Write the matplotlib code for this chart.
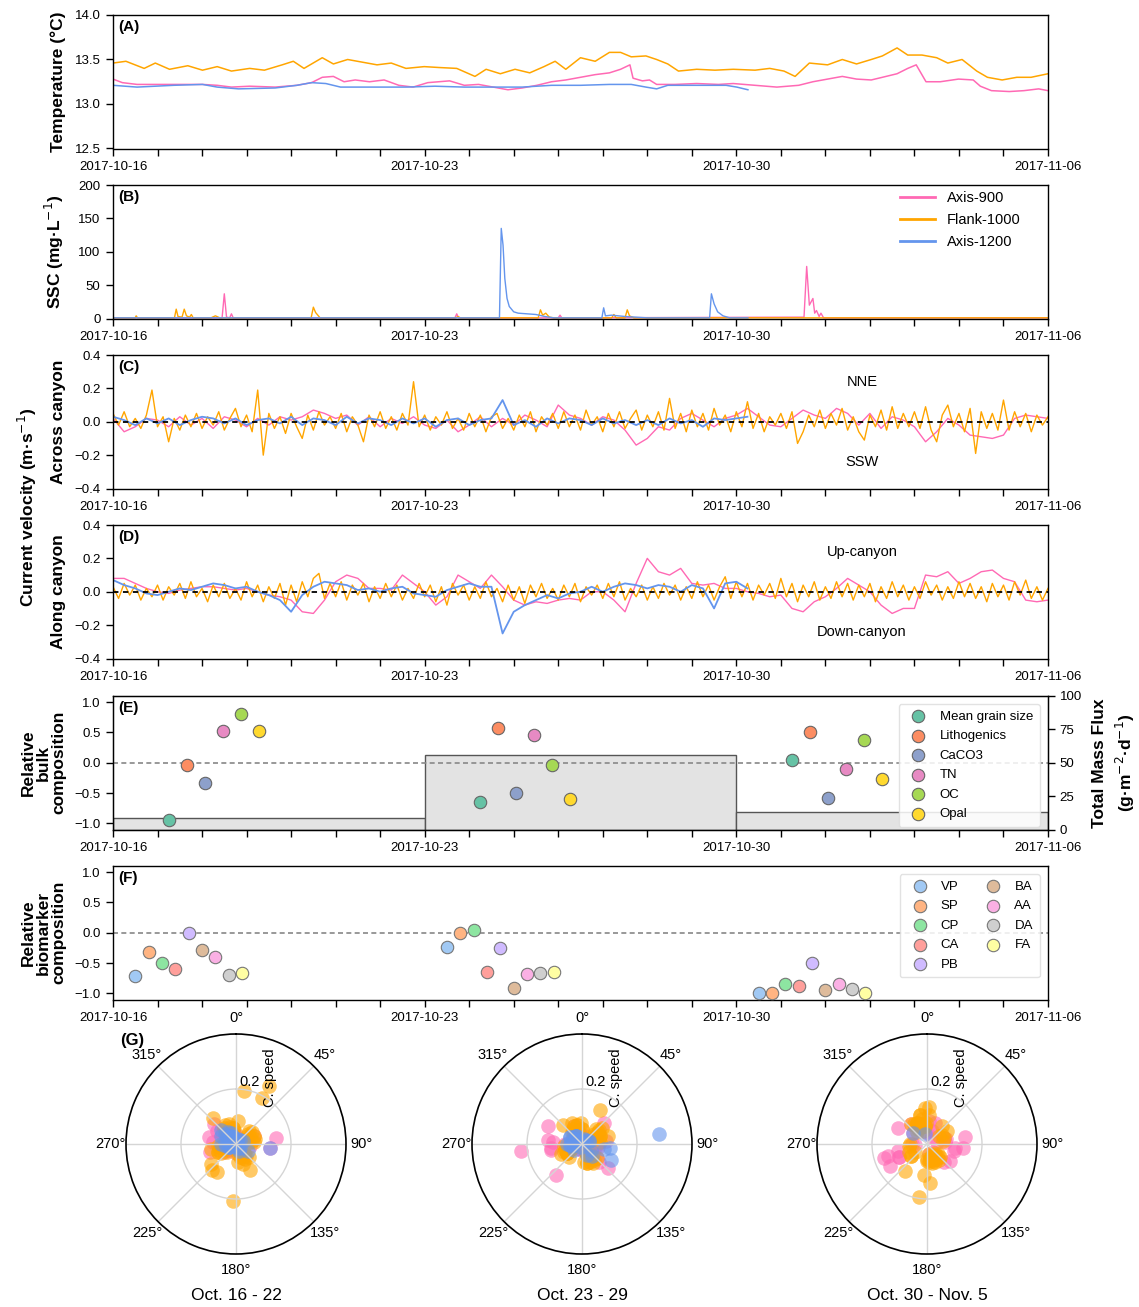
import numpy as np
import matplotlib
matplotlib.use("Agg")
import matplotlib.pyplot as plt
import matplotlib.dates as mdates
from matplotlib.ticker import FixedLocator, MultipleLocator
from datetime import datetime

plt.rcParams["font.family"] = ["Liberation Sans", "DejaVu Sans"]
plt.rcParams["font.size"] = 9.5

PINK, ORANGE, BLUE = "#ff69b4", "#ffa500", "#6495ed"
SITES = ["Axis-900", "Flank-1000", "Axis-1200"]
T0 = mdates.date2num(datetime(2017, 10, 16))
LABEL_SIZE = 12.5

# ---- (A) temperature, days since 2017-10-16 ----
temp_pink_day = [0, 0.21, 0.54, 1.19, 2.01, 2.34, 2.66, 3.07, 3.64, 4.13, 4.46, 4.70, 4.95, 5.19, 5.44,
                 5.76, 6.09, 6.42, 6.74, 7.07, 7.56, 7.89, 8.21, 8.54, 8.87, 9.19, 9.52, 9.85, 10.17, 10.50,
                 10.83, 11.15, 11.40, 11.61, 11.68, 11.89, 12.05, 12.21, 12.62, 13.11, 13.60, 13.93, 14.42,
                 14.91, 15.40, 15.72, 16.05, 16.38, 16.70, 17.03, 17.28, 17.61, 17.85, 18.04, 18.26, 18.58,
                 18.99, 19.32, 19.48, 19.73, 20.13, 20.46, 20.79, 21.0]
temp_pink = [13.28, 13.24, 13.22, 13.22, 13.22, 13.21, 13.19, 13.20, 13.19, 13.21, 13.24, 13.30, 13.31, 13.25,
             13.27, 13.25, 13.27, 13.21, 13.19, 13.24, 13.26, 13.21, 13.22, 13.19, 13.16, 13.18, 13.21, 13.25,
             13.27, 13.30, 13.33, 13.35, 13.39, 13.44, 13.29, 13.26, 13.27, 13.22, 13.22, 13.23, 13.22, 13.23,
             13.21, 13.19, 13.21, 13.25, 13.28, 13.31, 13.28, 13.27, 13.30, 13.34, 13.40, 13.44, 13.25, 13.25,
             13.28, 13.27, 13.20, 13.15, 13.14, 13.15, 13.17, 13.15]
temp_orange_day = [0, 0.29, 0.70, 0.95, 1.27, 1.68, 2.01, 2.34, 2.66, 3.07, 3.40, 3.80, 4.05, 4.29, 4.70,
                   4.95, 5.27, 5.60, 5.93, 6.25, 6.58, 6.99, 7.32, 7.72, 8.13, 8.38, 8.70, 9.03, 9.36, 9.68,
                   9.93, 10.17, 10.50, 10.83, 11.15, 11.40, 11.64, 11.97, 12.21, 12.46, 12.70, 13.11, 13.52,
                   13.93, 14.42, 14.75, 15.07, 15.32, 15.64, 16.05, 16.38, 16.70, 17.03, 17.28, 17.61, 17.85,
                   18.17, 18.50, 18.75, 19.07, 19.40, 19.64, 19.97, 20.30, 20.62, 21.0]
temp_orange = [13.46, 13.48, 13.40, 13.46, 13.39, 13.43, 13.38, 13.42, 13.37, 13.40, 13.38, 13.44, 13.48, 13.40,
               13.52, 13.45, 13.50, 13.47, 13.44, 13.46, 13.40, 13.42, 13.41, 13.40, 13.31, 13.39, 13.34, 13.39,
               13.35, 13.42, 13.48, 13.39, 13.52, 13.48, 13.58, 13.58, 13.53, 13.54, 13.50, 13.45, 13.37, 13.39,
               13.38, 13.39, 13.38, 13.40, 13.37, 13.31, 13.46, 13.44, 13.50, 13.45, 13.50, 13.54, 13.63, 13.55,
               13.55, 13.52, 13.46, 13.50, 13.37, 13.30, 13.27, 13.30, 13.30, 13.34]
temp_blue_day = [0, 0.54, 1.36, 2.01, 2.34, 2.82, 3.64, 4.13, 4.46, 4.78, 5.11, 5.93, 6.58, 7.23, 7.89,
                 8.54, 9.19, 9.85, 10.50, 11.15, 11.64, 11.97, 12.21, 12.46, 13.11, 13.77, 14.01, 14.26]
temp_blue = [13.21, 13.19, 13.21, 13.22, 13.19, 13.17, 13.18, 13.21, 13.24, 13.23, 13.19, 13.19, 13.19, 13.20,
             13.19, 13.19, 13.19, 13.21, 13.21, 13.22, 13.22, 13.19, 13.17, 13.21, 13.21, 13.21, 13.19, 13.16]

# ---- (B) SSC ----
ssc_pink_day = [0, 2.45, 2.50, 2.55, 2.62, 2.66, 2.70, 7.68, 7.72, 7.76, 10.0, 10.04, 10.08,
                15.52, 15.58, 15.64, 15.72, 15.76, 15.80, 15.86, 15.90, 15.96, 21]
ssc_pink = [1, 1, 37, 2, 1, 7, 1, 1, 7, 1, 1, 5, 1, 2, 78, 20, 30, 8, 12, 3, 8, 1, 1]
ssc_orange_day = [0, 0.50, 0.52, 0.55, 1.38, 1.42, 1.46, 1.55, 1.60, 1.65, 1.72, 1.76, 1.80, 2.20, 2.30,
                  2.40, 4.45, 4.50, 4.55, 4.60, 4.65, 7.70, 7.75, 7.80, 9.55, 9.60, 9.65, 9.72, 9.80, 9.90,
                  11.20, 11.25, 11.30, 11.50, 11.55, 11.60, 11.70, 21]
ssc_orange = [1, 1, 4, 1, 1, 14, 3, 2, 14, 4, 2, 6, 1, 1, 4, 1, 1, 17, 9, 5, 1, 1, 3, 1, 1, 13, 5, 8, 2, 1,
              1, 6, 1, 1, 13, 4, 1, 1]
ssc_blue_day = [0, 8.68, 8.72, 8.76, 8.80, 8.85, 8.90, 9.0, 9.1, 9.3, 9.5, 9.7, 9.9, 10.98, 11.02, 11.06,
                11.2, 11.5, 12.0, 13.4, 13.44, 13.5, 13.58, 13.7, 13.85, 14.26]
ssc_blue = [1, 1, 135, 110, 60, 30, 18, 10, 8, 7, 6, 3, 1, 1, 16, 4, 5, 3, 1, 1, 37, 22, 10, 4, 1, 1]

# ---- (C) across-canyon velocity; pink/blue every 6 h, orange every 3 h ----
across_pink = [0.02, -0.06, -0.03, 0.02, 0.01, -0.03, 0.03, -0.02, 0.02, -0.04, 0.03, 0.01,
               -0.03, 0.02, -0.02, 0.03, 0.01, 0.03, 0.07, 0.05, 0.02, 0.04, -0.02, 0.03,
               -0.03, 0.02, -0.01, 0.03, -0.02, -0.04, 0.01, -0.06, -0.02, 0.03, -0.03, 0.02,
               -0.02, 0.04, 0.01, -0.03, 0.10, 0.04, 0.02, -0.02, 0.03, 0.01, -0.05, -0.14,
               -0.10, -0.03, -0.05, 0.02, 0.05, 0.01, -0.03, 0.02, 0.04, 0.08, 0.03, -0.02,
               -0.03, 0.02, 0.07, 0.04, 0.02, 0.08, 0.05, -0.02, 0.05, -0.04, 0.03, 0.01,
               -0.03, -0.12, -0.06, 0.02, -0.02, -0.08, -0.09, -0.10, -0.08, 0.02, 0.04, 0.03, 0.02]
across_blue = [0.03, 0.01, -0.02, 0.02, -0.01, 0.02, -0.02, 0.01, 0.03, 0.02, -0.01, 0.02,
               -0.02, 0.01, 0.02, -0.01, 0.03, -0.02, 0.02, 0.01, -0.02, 0.03, -0.01, 0.02,
               0.01, -0.02, 0.02, -0.01, 0.02, -0.03, 0.01, 0.02, -0.02, 0.01, 0.02, 0.13,
               -0.02, 0.01, -0.03, 0.02, -0.01, 0.02, 0.01, -0.02, 0.02, -0.01, 0.01, -0.02,
               0.01, -0.02, 0.02, -0.01, 0.01, -0.03, 0.02, 0.01, 0.02, 0.03]
across_orange = [0.05, -0.02, 0.06, -0.03, 0.02, -0.04, 0.04, 0.19,
                 -0.03, 0.03, -0.12, 0.02, -0.05, 0.04, -0.03, 0.05,
                 -0.04, 0.03, -0.02, 0.06, -0.05, 0.02, 0.08, -0.03,
                 0.04, -0.06, 0.19, -0.20, 0.05, -0.04, 0.03, -0.07,
                 0.05, -0.03, -0.10, 0.04, -0.05, 0.06, -0.02, 0.03,
                 -0.04, 0.05, -0.06, 0.03, -0.02, -0.12, 0.04, -0.03,
                 0.06, -0.04, 0.03, -0.05, 0.05, -0.02, 0.24, -0.03,
                 0.04, -0.05, 0.03, -0.02, 0.06, -0.04, 0.02, -0.05,
                 0.05, -0.03, 0.04, -0.06, 0.03, 0.05, -0.04, 0.02,
                 -0.05, 0.04, -0.03, 0.06, -0.06, 0.03, -0.02, 0.05,
                 -0.04, 0.06, -0.03, 0.04, -0.05, 0.07, -0.02, 0.03,
                 -0.06, 0.05, -0.03, 0.06, -0.04, 0.02, 0.07, -0.05,
                 0.04, -0.03, 0.06, -0.05, 0.14, -0.04, 0.05, -0.06,
                 0.07, -0.03, 0.05, -0.05, 0.08, -0.02, 0.04, -0.06,
                 0.06, -0.03, 0.12, -0.04, 0.05, -0.06, 0.03, -0.02,
                 0.05, -0.04, 0.06, -0.13, -0.06, 0.04, -0.03, 0.07,
                 -0.04, 0.05, -0.02, 0.08, -0.05, 0.03, -0.06, -0.11,
                 0.04, -0.03, 0.07, -0.05, 0.09, -0.04, 0.05, -0.03,
                 0.06, -0.04, 0.09, -0.05, -0.12, 0.04, 0.10, -0.03,
                 0.05, -0.06, 0.08, -0.19, 0.06, -0.04, 0.05, -0.05,
                 0.13, -0.05, 0.06, -0.03, 0.05, -0.06, 0.04, -0.02, 0.03]

# ---- (D) along-canyon velocity ----
along_pink = [0.08, 0.08, 0.05, 0.02, 0.00, -0.01, 0.01, 0.02, 0.03, 0.03, 0.02, 0.01,
              0.02, 0.00, -0.02, -0.03, -0.05, -0.12, -0.13, -0.05, 0.06, 0.10, 0.08, 0.02,
              0.02, 0.01, 0.10, 0.05, 0.00, -0.08, -0.03, 0.10, 0.06, 0.02, 0.10, 0.03,
              -0.05, -0.08, -0.06, -0.07, -0.05, -0.04, -0.05, 0.00, 0.00, -0.05, -0.12, 0.05,
              0.20, 0.12, 0.10, 0.14, 0.05, 0.04, 0.05, 0.02, 0.02, 0.00, -0.01, -0.03,
              -0.02, -0.10, -0.12, -0.06, -0.03, 0.02, 0.08, 0.04, 0.00, -0.08, -0.13, -0.10,
              -0.10, 0.10, 0.09, 0.12, 0.05, 0.08, 0.12, 0.13, 0.08, 0.06, -0.05, -0.06, -0.05]
along_blue = [0.07, 0.04, 0.02, -0.01, -0.02, 0.00, 0.02, 0.01, 0.03, 0.05, 0.04, 0.02,
              0.03, 0.00, -0.02, -0.05, -0.12, -0.02, 0.03, 0.06, 0.05, 0.04, 0.01, 0.02,
              0.00, 0.02, 0.03, -0.01, -0.02, -0.03, 0.01, 0.03, 0.05, 0.03, 0.03, -0.25,
              -0.12, -0.08, -0.05, -0.02, -0.04, -0.01, 0.00, 0.03, 0.00, 0.03, 0.05, 0.04,
              0.02, 0.04, 0.03, 0.00, 0.04, 0.02, -0.10, 0.05, 0.06, 0.02]
along_orange = [0.03, -0.04, 0.05, -0.02, 0.04, -0.05, 0.02, -0.03,
                0.04, -0.05, 0.03, -0.02, 0.05, -0.04, 0.06, -0.03,
                0.02, -0.06, 0.04, -0.03, 0.05, -0.04, 0.02, -0.05,
                0.06, -0.03, 0.04, -0.06, 0.03, -0.04, 0.05, -0.08,
                0.04, -0.06, 0.06, -0.03, 0.08, 0.11, -0.04, 0.05,
                -0.03, 0.06, -0.05, 0.04, -0.02, 0.05, -0.06, 0.03,
                -0.04, 0.05, -0.03, 0.04, -0.05, 0.02, -0.04, 0.05,
                -0.03, 0.04, -0.06, 0.03, -0.08, 0.05, -0.02, 0.04,
                -0.05, 0.03, -0.04, 0.06, -0.03, 0.02, -0.06, 0.04,
                -0.05, 0.03, -0.07, 0.04, -0.03, 0.05, -0.04, 0.02,
                -0.05, 0.04, -0.03, 0.05, -0.06, 0.03, -0.02, 0.04,
                -0.04, 0.05, -0.03, 0.06, -0.05, 0.02, -0.03, 0.04,
                -0.05, 0.03, -0.04, 0.05, -0.02, 0.04, -0.05, 0.03,
                -0.04, 0.06, -0.03, 0.04, -0.05, 0.03, 0.09, -0.04,
                0.06, -0.03, 0.05, -0.05, 0.04, -0.02, 0.05, -0.04,
                0.08, -0.03, 0.05, -0.06, 0.04, -0.03, 0.06, -0.05,
                0.03, -0.04, 0.06, -0.03, 0.05, -0.05, 0.04, -0.03,
                0.05, -0.06, 0.03, -0.04, 0.06, -0.03, 0.04, -0.05,
                0.03, -0.04, 0.06, -0.02, 0.04, -0.05, 0.03, -0.04,
                0.06, -0.03, 0.05, -0.04, 0.03, -0.06, 0.05, -0.03,
                0.04, -0.05, 0.06, -0.02, 0.07, -0.04, 0.03, -0.05, 0.02]

# ---- (E) bulk composition + total mass flux, (F) biomarkers ----
bulk_names = ["Mean grain size", "Lithogenics", "CaCO3", "TN", "OC", "Opal"]
bulk_colors = ["#66c2a5", "#fc8d62", "#8da0cb", "#e78ac3", "#a6d854", "#ffd92f"]
bulk_week1 = [-0.95, -0.03, -0.33, 0.52, 0.80, 0.53]
bulk_week2 = [-0.65, 0.57, -0.50, 0.45, -0.03, -0.59]
bulk_week3 = [0.05, 0.50, -0.58, -0.10, 0.37, -0.27]
flux = [8.5, 55.5, 13.0]

bio_names = ["VP", "SP", "CP", "CA", "PB", "BA", "AA", "DA", "FA"]
bio_colors = ["#a1c9f4", "#ffb482", "#8de5a1", "#ff9f9b", "#d0bbff",
              "#debb9b", "#fab0e4", "#cfcfcf", "#fffea3"]
bio_week1 = [-0.71, -0.32, -0.50, -0.60, 0.00, -0.28, -0.40, -0.70, -0.67]
bio_week2 = [-0.23, -0.01, 0.05, -0.65, -0.25, -0.91, -0.68, -0.66, -0.65]
bio_week3 = [-1.00, -1.00, -0.85, -0.87, -0.50, -0.95, -0.85, -0.92, -1.00]

week_titles = ["Oct. 16 - 22", "Oct. 23 - 29", "Oct. 30 - Nov. 5"]


def time_axis(ax):
    ax.set_xlim(T0, T0 + 21)
    ax.xaxis.set_major_locator(FixedLocator([T0, T0 + 7, T0 + 14, T0 + 21]))
    ax.xaxis.set_minor_locator(MultipleLocator(1))
    ax.xaxis.set_major_formatter(mdates.DateFormatter("%Y-%m-%d"))
    ax.tick_params(which="both", direction="out", length=5, width=1, pad=4)
    for s in ax.spines.values():
        s.set_linewidth(1)


def panel_label(ax, txt):
    ax.text(0.006, 0.965, txt, transform=ax.transAxes, va="top", ha="left",
            fontsize=11, fontweight="bold")


fig = plt.figure(figsize=(11.39, 13.07), dpi=100)
L, W = 113 / 1139, 935 / 1139
tops = [15, 185, 355, 525, 696, 866]
axs = [fig.add_axes([L, 1 - (t + 133.5) / 1307, W, 133.5 / 1307]) for t in tops]
axA, axB, axC, axD, axE, axF = axs
lab_x = -0.05

# (A)
axA.plot(T0 + np.array(temp_pink_day), temp_pink, color=PINK, lw=1.1)
axA.plot(T0 + np.array(temp_orange_day), temp_orange, color=ORANGE, lw=1.1)
axA.plot(T0 + np.array(temp_blue_day), temp_blue, color=BLUE, lw=1.1)
axA.set_ylim(12.5, 14.0)
axA.set_yticks([12.5, 13.0, 13.5, 14.0])
axA.set_ylabel("Temperature (°C)", fontsize=LABEL_SIZE, fontweight="bold")
axA.yaxis.set_label_coords(lab_x, 0.5)
time_axis(axA)
panel_label(axA, "(A)")

# (B)
for d, v, c, name in [(ssc_pink_day, ssc_pink, PINK, SITES[0]),
                      (ssc_orange_day, ssc_orange, ORANGE, SITES[1]),
                      (ssc_blue_day, ssc_blue, BLUE, SITES[2])]:
    axB.plot(T0 + np.array(d), v, color=c, lw=1, label=name)
axB.set_ylim(0, 200)
axB.set_yticks([0, 50, 100, 150, 200])
axB.set_ylabel("SSC (mg·L$^{-1}$)", fontsize=LABEL_SIZE, fontweight="bold")
axB.yaxis.set_label_coords(lab_x, 0.5)
leg = axB.legend(loc="upper right", bbox_to_anchor=(0.985, 1.055), frameon=False, fontsize=10.5,
                 handlelength=2.4, labelspacing=0.55)
for h in leg.get_lines():
    h.set_linewidth(2)
time_axis(axB)
panel_label(axB, "(B)")

# (C) and (D)
t6 = T0 + 0.25 * np.arange(len(across_pink))
t6b = T0 + 0.25 * np.arange(len(across_blue))
t3 = T0 + 0.125 * np.arange(len(across_orange))
for ax, p, o, b, lab, up, dn in [(axC, across_pink, across_orange, across_blue, "Across canyon", "NNE", "SSW"),
                                 (axD, along_pink, along_orange, along_blue, "Along canyon", "Up-canyon", "Down-canyon")]:
    ax.plot(t6, p, color=PINK, lw=1.0)
    ax.plot(t3, o, color=ORANGE, lw=1.0)
    ax.plot(t6b, b, color=BLUE, lw=1.3)
    ax.axhline(0, color="black", ls="--", lw=1.3, dashes=(3, 2.5))
    ax.set_ylim(-0.4, 0.4)
    ax.set_yticks([-0.4, -0.2, 0.0, 0.2, 0.4])
    ax.set_ylabel(lab, fontsize=LABEL_SIZE, fontweight="bold")
    ax.yaxis.set_label_coords(lab_x, 0.5)
    ax.text(T0 + 16.82, 0.24, up, ha="center", va="center", fontsize=10.5)
    ax.text(T0 + 16.82, -0.24, dn, ha="center", va="center", fontsize=10.5)
    time_axis(ax)
panel_label(axC, "(C)")
panel_label(axD, "(D)")
fig.text(27 / 1139, 1 - 507 / 1307, "Current velocity (m·s$^{-1}$)", rotation=90,
         ha="center", va="center", fontsize=LABEL_SIZE, fontweight="bold")

# (E)
axE2 = axE.twinx()
axE2.bar([T0, T0 + 7, T0 + 14], flux, width=7, align="edge", color="#e3e3e3",
         edgecolor="#555555", lw=1)
axE2.set_ylim(0, 100)
axE2.set_yticks([0, 25, 50, 75, 100])
axE2.set_ylabel("Total Mass Flux\n(g·m$^{-2}$·d$^{-1}$)", fontsize=LABEL_SIZE, fontweight="bold",
                linespacing=1.4)
axE2.yaxis.set_label_coords(1.047, 0.5)
axE2.tick_params(direction="out", length=5, width=1)
axE.set_zorder(axE2.get_zorder() + 1)
axE.patch.set_visible(False)
axE.axhline(0, color="#888888", ls="--", lw=1.2, dashes=(3, 2))
for w, vals in enumerate([bulk_week1, bulk_week2, bulk_week3]):
    for i, v in enumerate(vals):
        axE.scatter(T0 + 7 * w + 1.25 + 0.405 * i, v, s=80, color=bulk_colors[i],
                    edgecolor="#666666", lw=0.8, zorder=3, label=bulk_names[i] if w == 0 else None)
axE.set_ylim(-1.1, 1.1)
axE.set_yticks([-1.0, -0.5, 0.0, 0.5, 1.0])
axE.set_ylabel("Relative\nbulk\ncomposition", fontsize=LABEL_SIZE, fontweight="bold", linespacing=1.0)
axE.yaxis.set_label_coords(-0.05, 0.5)
axE.legend(loc="upper right", fontsize=9.5, frameon=True, edgecolor="#dddddd", framealpha=0.85,
           handletextpad=0.6, labelspacing=0.55, borderpad=0.5, bbox_to_anchor=(0.998, 0.99))
time_axis(axE)
panel_label(axE, "(E)")

# (F)
axF.axhline(0, color="#888888", ls="--", lw=1.2, dashes=(3, 2))
for w, vals in enumerate([bio_week1, bio_week2, bio_week3]):
    for i, v in enumerate(vals):
        axF.scatter(T0 + 7 * w + 0.5 + 0.3 * i, v, s=80, color=bio_colors[i],
                    edgecolor="#777777", lw=0.8, zorder=3, label=bio_names[i] if w == 0 else None)
axF.set_ylim(-1.1, 1.1)
axF.set_yticks([-1.0, -0.5, 0.0, 0.5, 1.0])
axF.set_ylabel("Relative\nbiomarker\ncomposition", fontsize=LABEL_SIZE, fontweight="bold", linespacing=1.0)
axF.yaxis.set_label_coords(-0.05, 0.5)
axF.legend(loc="upper right", ncol=2, fontsize=9.5, frameon=True, edgecolor="#dddddd",
           framealpha=0.85, handletextpad=0.6, labelspacing=0.55, columnspacing=1.6,
           borderpad=0.5, bbox_to_anchor=(0.998, 0.99))
time_axis(axF)
panel_label(axF, "(F)")

# (G) polar current roses, derived from the along / across components
UP_BEARING, ACROSS_BEARING = np.deg2rad(290), np.deg2rad(20)
series = [(0.25, across_pink, along_pink, PINK),
          (0.125, across_orange, along_orange, ORANGE),
          (0.25, across_blue, along_blue, BLUE)]
size = 220
for w, cx in enumerate([236, 582, 927]):
    axG = fig.add_axes([(cx - size / 2) / 1139, 1 - (1144 + size / 2) / 1307, size / 1139, size / 1307],
                       projection="polar")
    axG.set_theta_zero_location("N")
    axG.set_theta_direction(-1)
    for step, ac, al, c in series:
        ac, al = np.array(ac), np.array(al)
        day = step * np.arange(len(ac))
        m = (day >= 7 * w) & (day < 7 * (w + 1))
        east = ac[m] * np.sin(ACROSS_BEARING) + al[m] * np.sin(UP_BEARING)
        north = ac[m] * np.cos(ACROSS_BEARING) + al[m] * np.cos(UP_BEARING)
        axG.scatter(np.arctan2(east, north), np.hypot(east, north), s=110, color=c, alpha=0.6, lw=0)
    axG.set_ylim(0, 0.4)
    axG.set_rticks([0.2])
    axG.set_rlabel_position(3)
    axG.set_thetagrids(range(0, 360, 45))
    axG.grid(color="#d5d5d5", lw=1)
    axG.spines["polar"].set_linewidth(1.2)
    axG.tick_params(labelsize=10.5, pad=1)
    axG.text(np.deg2rad(27), 0.27, "C. speed", rotation=90, ha="center", va="center", fontsize=10.5)
    fig.text(cx / 1139, 1 - 1296 / 1307, week_titles[w], ha="center", va="center", fontsize=12.5)
fig.text(120 / 1139, 1 - 1040 / 1307, "(G)", ha="left", va="center", fontsize=12, fontweight="bold")

fig.savefig("out.png", dpi=100)
